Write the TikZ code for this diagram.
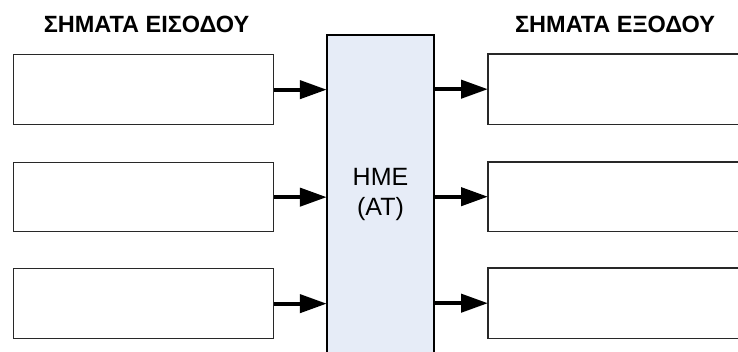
\documentclass[tikz,border=0pt]{standalone}
\usepackage{fontspec}
\setmainfont{Liberation Sans}
\usetikzlibrary{arrows.meta}
\definecolor{hmefill}{RGB}{230,236,247}
\definecolor{boxline}{RGB}{40,40,40}
\begin{document}
\begin{tikzpicture}[x=1pt,y=-1pt,
  inbox/.style={draw=boxline, line width=1.3pt, fill=white, minimum width=260pt, minimum height=70pt, inner sep=0pt, anchor=north west},
  outbox/.style={fill=white, minimum width=260pt, minimum height=70pt, inner sep=0pt, anchor=north west},
  edge3/.style={draw=boxline, line width=1.3pt},
  hmebox/.style={fill=hmefill, minimum width=107pt, minimum height=319pt, inner sep=0pt, align=center, font=\fontsize{25}{30}\selectfont},
  hmeline/.style={draw=black, line width=2pt},
  title/.style={font=\fontsize{23.5}{27}\selectfont\bfseries, anchor=base, inner sep=0pt},
  arr/.style={line width=4.2pt, -{Triangle[length=27pt, width=18pt]}}
]
\useasboundingbox (0,0) rectangle (738,352);
\fill[white] (0,0) rectangle (738,352);

\node[title] (tin) at (146.5,33) {ΣΗΜΑΤΑ ΕΙΣΟΔΟΥ};
\node[title] (tout) at (615,33) {ΣΗΜΑΤΑ ΕΞΟΔΟΥ};

\node[inbox] (i1) at (13,54) {};
\node[inbox, minimum height=69pt] (i2) at (13,162) {};
\node[inbox] (i3) at (13,268) {};

\node[hmebox] (c) at (380.5,194.5) {HME\\(AT)};
\draw[hmeline] (c.south west) -- (c.north west) -- (c.north east) -- (c.south east);

\node[outbox] (o1) at (488,54) {};
\node[outbox, minimum height=69pt] (o2) at (488,162) {};
\node[outbox] (o3) at (488,268) {};
\foreach \o in {o1,o2,o3}{
  \draw[edge3] (\o.north east) -- (\o.north west) -- (\o.south west) -- (\o.south east);
}

\foreach \i in {i1,i2,i3}{
  \draw[arr] (\i.east) -- (\i.east -| c.west);
}
\foreach \o in {o1,o2,o3}{
  \draw[arr] (\o.west -| c.east) -- (\o.west);
}
\end{tikzpicture}
\end{document}
